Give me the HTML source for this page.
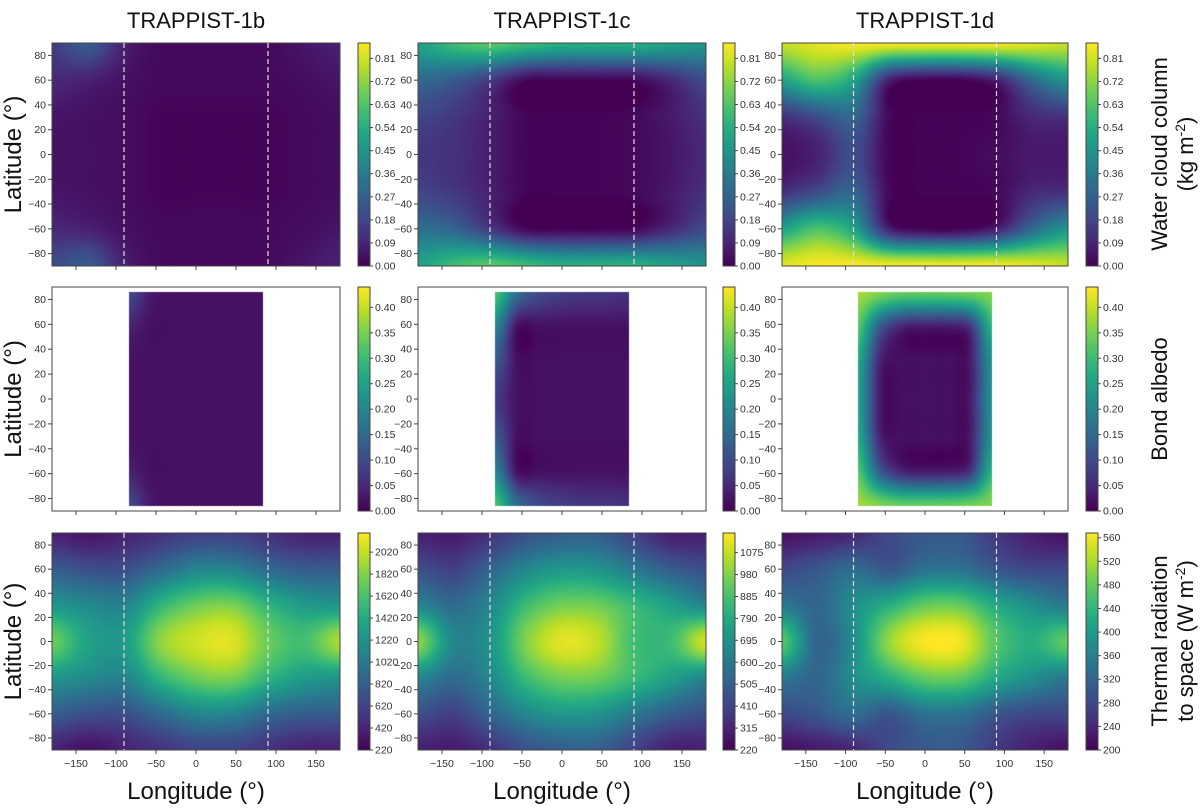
<!DOCTYPE html>
<html><head><meta charset="utf-8"><style>
html,body{margin:0;padding:0;background:#fff;}
#wrap{position:relative;width:1200px;height:808px;overflow:hidden;font-family:"Liberation Sans",sans-serif;}
canvas,svg{position:absolute;left:0;top:0;}
</style></head><body>
<div id="wrap">
<canvas id="cv" width="1200" height="808"></canvas>
<svg id="sv" width="1200" height="808"></svg>
</div>
<script>
// ---- data (lat rows 90..-90 step 30, lon cols -180..180 step 45) ----
const lonGrid = [-180,-135,-90,-45,0,45,90,135,180];
const latGrid = [90,60,30,0,-30,-60,-90];
const dayLon = [-84,-56,-28,0,28,56,84];
const dayLat = [86,57,29,0,-29,-57,-86];
const planets = ["TRAPPIST-1b","TRAPPIST-1c","TRAPPIST-1d"];
const cloud_b = [
[.15,.25,.08,.02,.02,.02,.02,.05,.08],
[.10,.08,.04,.02,.02,.02,.02,.03,.05],
[.05,.04,.03,.01,.01,.01,.01,.02,.03],
[.04,.04,.03,.01,.01,.01,.01,.02,.03],
[.05,.04,.03,.01,.01,.01,.01,.02,.03],
[.10,.08,.04,.02,.02,.02,.02,.03,.05],
[.20,.25,.08,.02,.02,.02,.02,.05,.08]];
const cloud_c = [
[.50,.60,.65,.60,.55,.55,.55,.50,.45],
[.30,.25,.15,.02,.01,.01,.02,.10,.20],
[.18,.14,.08,.01,.01,.01,.02,.06,.12],
[.14,.12,.07,.01,.01,.01,.02,.05,.10],
[.18,.14,.08,.01,.01,.01,.02,.06,.12],
[.32,.28,.15,.02,.01,.01,.02,.10,.20],
[.50,.60,.65,.60,.55,.55,.55,.50,.45]];
const cloud_d = [
[.80,.84,.87,.87,.87,.87,.87,.84,.80],
[.50,.62,.50,.08,.01,.01,.08,.30,.45],
[.12,.20,.28,.02,.01,.01,.02,.10,.12],
[.04,.08,.20,.01,.01,.01,.03,.06,.06],
[.12,.20,.28,.02,.01,.01,.02,.10,.12],
[.50,.62,.50,.08,.01,.01,.08,.30,.45],
[.84,.87,.87,.87,.87,.87,.87,.84,.80]];
const albedo_b = [
[.10,.03,.02,.02,.02,.02,.02],
[.04,.02,.02,.02,.02,.02,.02],
[.02,.02,.02,.02,.02,.02,.02],
[.02,.02,.02,.02,.02,.02,.02],
[.02,.02,.02,.02,.02,.02,.02],
[.04,.02,.02,.02,.02,.02,.02],
[.10,.03,.02,.02,.02,.02,.02]];
const albedo_c = [
[.32,.16,.10,.08,.07,.07,.06],
[.20,.02,.02,.02,.02,.02,.02],
[.12,.02,.02,.02,.02,.02,.02],
[.08,.02,.02,.02,.02,.02,.02],
[.12,.02,.02,.02,.02,.02,.02],
[.20,.02,.02,.02,.02,.02,.02],
[.32,.16,.10,.08,.07,.07,.06]];
const albedo_d = [
[.38,.36,.34,.34,.34,.35,.36],
[.32,.12,.04,.03,.03,.06,.28],
[.26,.04,.02,.02,.02,.03,.22],
[.25,.03,.02,.02,.02,.03,.22],
[.26,.04,.02,.02,.02,.03,.22],
[.32,.12,.04,.03,.03,.06,.28],
[.38,.36,.34,.34,.34,.35,.36]];
const olr_b = [
[400,330,400,500,600,600,500,400,400],
[800,700,700,900,1100,1100,900,800,800],
[1250,1150,1100,1500,1750,1800,1500,1300,1250],
[1750,1350,1300,1850,2050,2100,1750,1600,1950],
[1250,1150,1100,1500,1750,1800,1500,1300,1250],
[800,700,700,900,1100,1100,900,800,800],
[400,300,400,500,600,600,500,400,400]];
const olr_c = [
[300,290,350,450,500,500,400,300,300],
[450,400,520,650,720,700,600,500,450],
[650,550,650,860,960,950,850,750,650],
[1000,650,700,980,1120,1070,870,860,1100],
[650,550,650,860,960,950,850,750,650],
[450,400,520,650,720,700,600,500,450],
[300,290,350,450,500,500,400,300,300]];
const olr_d = [
[215,225,240,280,300,300,260,230,215],
[280,300,330,300,340,340,300,280,280],
[350,320,380,430,480,480,420,380,350],
[470,320,380,510,565,560,470,430,480],
[350,320,380,430,480,480,420,380,350],
[280,300,330,300,340,340,300,280,280],
[215,225,240,280,300,300,260,230,215]];
const cloudTicks = [0,0.09,0.18,0.27,0.36,0.45,0.54,0.63,0.72,0.81];
const albedoTicks = [0,0.05,0.10,0.15,0.20,0.25,0.30,0.35,0.40];
const olrTicks_b = [220,420,620,820,1020,1220,1420,1620,1820,2020];
const olrTicks_c = [220,315,410,505,600,695,790,885,980,1075];
const olrTicks_d = [200,240,280,320,360,400,440,480,520,560];
const latTicks = [80,60,40,20,0,-20,-40,-60,-80];
const lonTicks = [-150,-100,-50,0,50,100,150];

const cols = [{x0:52,x1:340,c0:358,c1:370},{x0:418,x1:706,c0:723,c1:735},{x0:782,x1:1068,c0:1086,c1:1098}];
const rows = [{y0:43,y1:266},{y0:287,y1:511},{y0:533,y1:750}];
const panels = [
 [{g:cloud_b,lo:0,hi:0.87,t:cloudTicks,fmt:2,day:false},{g:cloud_c,lo:0,hi:0.87,t:cloudTicks,fmt:2,day:false},{g:cloud_d,lo:0,hi:0.87,t:cloudTicks,fmt:2,day:false}],
 [{g:albedo_b,lo:0,hi:0.44,t:albedoTicks,fmt:2,day:true},{g:albedo_c,lo:0,hi:0.44,t:albedoTicks,fmt:2,day:true},{g:albedo_d,lo:0,hi:0.44,t:albedoTicks,fmt:2,day:true}],
 [{g:olr_b,lo:220,hi:2194,t:olrTicks_b,fmt:0,day:false},{g:olr_c,lo:220,hi:1160,t:olrTicks_c,fmt:0,day:false},{g:olr_d,lo:200,hi:568,t:olrTicks_d,fmt:0,day:false}]];

const vir=[[68,1,84],[72,36,117],[65,68,135],[53,95,141],[42,120,142],[33,145,140],[34,168,132],[68,191,112],[122,209,81],[189,223,38],[253,231,37]];
function cmap(t){t=Math.max(0,Math.min(1,t));const f=t*10,i=Math.min(9,Math.floor(f)),r=f-i;const a=vir[i],b=vir[i+1];return [a[0]+(b[0]-a[0])*r,a[1]+(b[1]-a[1])*r,a[2]+(b[2]-a[2])*r];}
function cr(p0,p1,p2,p3,t){return 0.5*((2*p1)+(-p0+p2)*t+(2*p0-5*p1+4*p2-p3)*t*t+(-p0+3*p1-3*p2+p3)*t*t*t);}
function interp(g,xs,ys,lon,lat){
 const nx=xs.length,ny=ys.length;
 let fx=(lon-xs[0])/(xs[nx-1]-xs[0])*(nx-1); fx=Math.max(0,Math.min(nx-1-1e-6,fx));
 let fy=(lat-ys[0])/(ys[ny-1]-ys[0])*(ny-1); fy=Math.max(0,Math.min(ny-1-1e-6,fy));
 const i=Math.floor(fx),j=Math.floor(fy),u=fx-i,v=fy-j;
 const ci=k=>Math.max(0,Math.min(nx-1,k)),cj=k=>Math.max(0,Math.min(ny-1,k));
 const rowv=jj=>{const R=g[cj(jj)];return cr(R[ci(i-1)],R[ci(i)],R[ci(i+1)],R[ci(i+2)],u);};
 return cr(rowv(j-1),rowv(j),rowv(j+1),rowv(j+2),v);
}
const cv=document.getElementById('cv'),ctx=cv.getContext('2d');
const img=ctx.createImageData(1200,808);
function px(x,y,c){const k=(y*1200+x)*4;img.data[k]=c[0];img.data[k+1]=c[1];img.data[k+2]=c[2];img.data[k+3]=255;}
const NS='http://www.w3.org/2000/svg',sv=document.getElementById('sv');
function el(tag,attrs,txt){const e=document.createElementNS(NS,tag);for(const k in attrs)e.setAttribute(k,attrs[k]);if(txt!==undefined)e.textContent=txt;sv.appendChild(e);return e;}

for(let r=0;r<3;r++)for(let c=0;c<3;c++){
 const P=panels[r][c],C=cols[c],R=rows[r];
 const lonX=l=>C.x0+(l+180)/360*(C.x1-C.x0);
 const latY=l=>R.y0+(90-l)/180*(R.y1-R.y0);
 for(let y=R.y0;y<R.y1;y++)for(let x=C.x0;x<C.x1;x++){
  const lon=-180+(x+0.5-C.x0)/(C.x1-C.x0)*360, lat=90-(y+0.5-R.y0)/(R.y1-R.y0)*180;
  let v;
  if(P.day){ if(lon<dayLon[0]||lon>dayLon[6]||lat>dayLat[0]||lat<dayLat[6]){px(x,y,[255,255,255]);continue;}
   v=interp(P.g,dayLon,dayLat,lon,lat);}
  else v=interp(P.g,lonGrid,latGrid,lon,lat);
  px(x,y,cmap((v-P.lo)/(P.hi-P.lo)));
 }
 for(let y=R.y0;y<R.y1;y++){const t=(R.y1-0.5-y)/(R.y1-R.y0);const col=cmap(t);for(let x=C.c0;x<C.c1;x++)px(x,y,col);}
 const fr=el('rect',{x:C.x0,y:R.y0,width:C.x1-C.x0,height:R.y1-R.y0,fill:'none',stroke:'#444','stroke-width':1});
 
 
 const cb=el('rect',{x:C.c0,y:R.y0,width:C.c1-C.c0,height:R.y1-R.y0,fill:'none',stroke:'#444','stroke-width':1});
 
 
 if(!P.day){for(const l of [-90,90]){const d=el('line',{x1:lonX(l),x2:lonX(l),y1:R.y0,y2:R.y1,stroke:'#ddd','stroke-width':1.2,'stroke-dasharray':'5,3'});
  
  }}
 for(const l of latTicks){const y=latY(l);el('line',{x1:C.x0-4,x2:C.x0,y1:y,y2:y,stroke:'#444'});
  const t=el('text',{x:C.x0-6,y:y+3.5,'text-anchor':'end','font-size':10.5,fill:'#333'},l<0?'\u2212'+(-l):String(l));
  
  }
 for(const l of lonTicks){const x=lonX(l);el('line',{x1:x,x2:x,y1:R.y1,y2:R.y1+4,stroke:'#444'});
  if(r===2){const t=el('text',{x:x,y:R.y1+17,'text-anchor':'middle','font-size':10.5,fill:'#333'},l<0?'\u2212'+(-l):String(l));
  
  }}
 for(const v of P.t){const y=R.y1-(v-P.lo)/(P.hi-P.lo)*(R.y1-R.y0);el('line',{x1:C.c1,x2:C.c1+3,y1:y,y2:y,stroke:'#444'});
  const t=el('text',{x:C.c1+5,y:y+3.5,'font-size':10.5,fill:'#333'},v.toFixed(P.fmt));
  
  }
}
ctx.putImageData(img,0,0);
for(let c=0;c<3;c++){const C=cols[c];
 const t=el('text',{x:(C.x0+C.x1)/2,y:28,'text-anchor':'middle','font-size':22,fill:'#111'},planets[c]);
 
 
 const xl=el('text',{x:(C.x0+C.x1)/2,y:799,'text-anchor':'middle','font-size':24,fill:'#111'},'Longitude (°)');
 
 }
for(let r=0;r<3;r++){const R=rows[r],m=(R.y0+R.y1)/2;
 const yl=el('text',{x:0,y:0,transform:'translate(21,'+m+') rotate(-90)','text-anchor':'middle','font-size':24,fill:'#111'},'Latitude (°)');
 
 }
function rl(x,m,txt,sup,after){const t=el('text',{x:0,y:0,transform:'translate('+x+','+m+') rotate(-90)','text-anchor':'middle','font-size':22,fill:'#111'});
 
 
 t.appendChild(document.createTextNode(txt));
 if(sup){const s=document.createElementNS(NS,'tspan');s.setAttribute('dy','-8');s.setAttribute('font-size','14');s.textContent=sup;t.appendChild(s);
  const s2=document.createElementNS(NS,'tspan');s2.setAttribute('dy','8');s2.textContent=after;t.appendChild(s2);}}
rl(1167,154,'Water cloud column');rl(1193,154,'(kg m','-2',')');
rl(1167,399,'Bond albedo');
rl(1167,641,'Thermal radiation');rl(1193,641,'to space (W m','-2',')');
</script>
</body></html>
